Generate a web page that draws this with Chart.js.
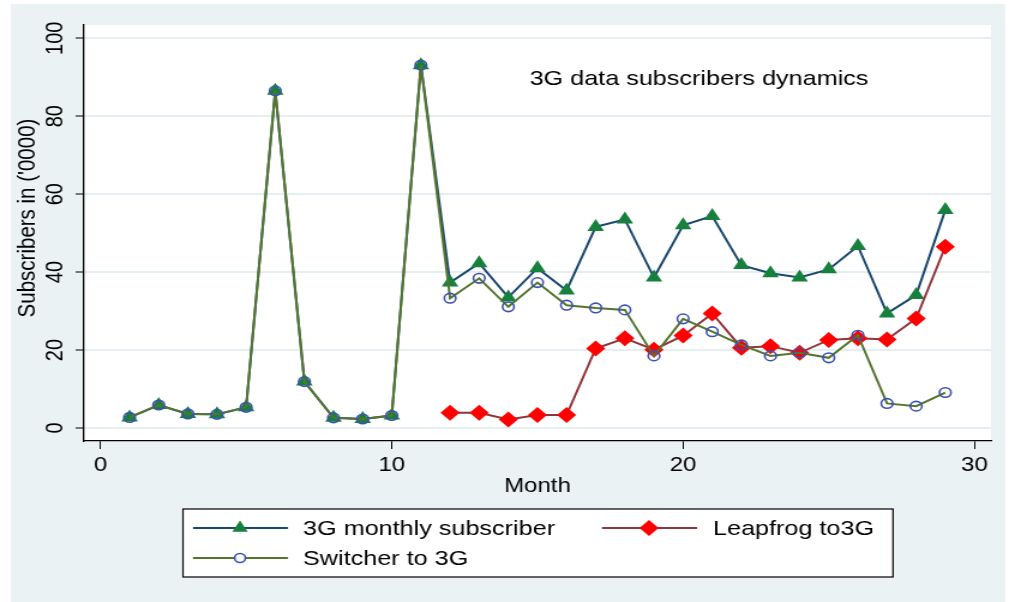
<!DOCTYPE html>
<html>
<head>
<meta charset="utf-8">
<script src="https://cdn.jsdelivr.net/npm/chart.js@4/dist/chart.umd.min.js"></script>
<style>
  body { margin: 0; background: #ffffff; }
</style>
</head>
<body>
<!-- the reference is stretched ~1.2x horizontally, so draw narrow and stretch with css -->
<canvas id="chart" width="846" height="602" style="display:block;width:1015px;height:602px"></canvas>
<script>
// Data
const months = [1, 2, 3, 4, 5, 6, 7, 8, 9, 10, 11, 12, 13, 14, 15, 16, 17, 18, 19, 20, 21, 22, 23, 24, 25, 26, 27, 28, 29];
const monthly3G = [2.7, 5.9, 3.6, 3.5, 5.3, 86.5, 11.9, 2.6, 2.3, 3.2, 93.1, 37.3, 42.3, 33.5, 41.0, 35.3, 51.6, 53.5, 38.6, 52.0, 54.4, 41.8, 39.7, 38.6, 40.7, 46.7, 29.4, 34.1, 55.9];
const leapfrog = [null, null, null, null, null, null, null, null, null, null, null, 3.9, 3.9, 2.2, 3.3, 3.3, 20.4, 23.0, 20.1, 23.7, 29.4, 20.6, 21.0, 19.3, 22.6, 23.0, 22.7, 28.1, 46.5];
const switcher = [2.7, 5.9, 3.6, 3.5, 5.3, 86.5, 11.9, 2.6, 2.3, 3.2, 93.1, 33.3, 38.4, 31.1, 37.3, 31.5, 30.8, 30.3, 18.5, 28.0, 24.7, 21.3, 18.5, 19.3, 18.0, 23.8, 6.3, 5.6, 9.1];

const xTicks = [0, 10, 20, 30];
const yTicks = [0, 20, 40, 60, 80, 100];

const seriesNames = ['3G monthly subscriber', 'Leapfrog to3G', 'Switcher to 3G'];
const chartTitle = '3G data subscribers dynamics';
const yTitle = "Subscribers in ('0000)";
const xTitle = 'Month';

// colours (Stata s2color look)
const navy = '#1a476f';
const maroon = '#90353b';
const olive = '#55752f';
const triGreen = '#16803c';
const diaRed = '#ff0000';
const ringBlue = '#3c50b4';
const bgBlue = '#eaf2f3';

const S = 1015 / 846; // css px per canvas px horizontally
const FONT = '"Liberation Sans", Arial, Helvetica, sans-serif';
Chart.defaults.font.family = FONT;
Chart.defaults.color = '#000';

function toPoints(values) {
    return months.map((m, i) => ({ x: m, y: values[i] }));
}

// small marker helper for the legend
function drawMarker(ctx, type, x, y) {
    ctx.save();
    if (type === 'triangle') {
        const r = 7.5;
        ctx.fillStyle = triGreen;
        ctx.beginPath();
        ctx.moveTo(x, y - r);
        ctx.lineTo(x + r * 0.866, y + r / 2);
        ctx.lineTo(x - r * 0.866, y + r / 2);
        ctx.closePath();
        ctx.fill();
    } else if (type === 'diamond') {
        const r = 8;
        ctx.fillStyle = diaRed;
        ctx.beginPath();
        ctx.moveTo(x - r, y);
        ctx.lineTo(x, y - r);
        ctx.lineTo(x + r, y);
        ctx.lineTo(x, y + r);
        ctx.closePath();
        ctx.fill();
    } else {
        ctx.strokeStyle = ringBlue;
        ctx.lineWidth = 1.6;
        ctx.fillStyle = '#fff';
        ctx.beginPath();
        ctx.arc(x, y, 4.5, 0, Math.PI * 2);
        ctx.fill();
        ctx.stroke();
    }
    ctx.restore();
}

const stataFrame = {
    id: 'stataFrame',
    beforeDraw(chart) {
        const ctx = chart.ctx;
        const a = chart.chartArea;
        ctx.save();
        ctx.fillStyle = '#fff';
        ctx.fillRect(0, 0, chart.width, chart.height);
        ctx.fillStyle = bgBlue;
        ctx.fillRect(11 / S, 4, (1005 - 11) / S, 598);
        ctx.fillStyle = '#fff';
        ctx.fillRect(a.left, a.top, a.right - a.left, a.bottom - a.top);
        ctx.restore();
    },
    afterDraw(chart) {
        const ctx = chart.ctx;
        ctx.save();
        ctx.fillStyle = '#000';

        // caption inside the plot region
        ctx.font = '21px ' + FONT;
        ctx.textAlign = 'center';
        ctx.textBaseline = 'alphabetic';
        ctx.fillText(chartTitle, 699 / S, 85);

        // y axis title
        ctx.save();
        ctx.translate(28 / S, 218);
        ctx.rotate(-Math.PI / 2);
        ctx.font = '20.5px ' + FONT;
        ctx.textAlign = 'center';
        ctx.textBaseline = 'middle';
        ctx.fillText(yTitle, 0, 0);
        ctx.restore();

        // legend box
        ctx.fillStyle = '#fff';
        ctx.fillRect(183 / S, 509, (893 - 183) / S, 68);
        ctx.strokeStyle = '#000';
        ctx.lineWidth = 1.2;
        ctx.strokeRect(183 / S, 509, (893 - 183) / S, 68);

        const items = [
            { name: seriesNames[0], color: navy, marker: 'triangle', x0: 193, x1: 288, mx: 240, tx: 303, y: 528 },
            { name: seriesNames[1], color: maroon, marker: 'diamond', x0: 602, x1: 697, mx: 649, tx: 713, y: 528 },
            { name: seriesNames[2], color: olive, marker: 'circle', x0: 193, x1: 288, mx: 240, tx: 303, y: 558 }
        ];
        items.forEach(it => {
            ctx.strokeStyle = it.color;
            ctx.lineWidth = 2;
            ctx.beginPath();
            ctx.moveTo(it.x0 / S, it.y);
            ctx.lineTo(it.x1 / S, it.y);
            ctx.stroke();
            drawMarker(ctx, it.marker, it.mx / S, it.y);
            ctx.fillStyle = '#000';
            ctx.font = '21px ' + FONT;
            ctx.textAlign = 'left';
            ctx.textBaseline = 'middle';
            ctx.fillText(it.name, it.tx / S, it.y + 1);
        });
        ctx.restore();
    }
};

const canvas = document.getElementById('chart');
const ctx = canvas.getContext('2d');
new Chart(ctx, {
    type: 'line',
    data: {
        // first dataset is drawn on top, as the switcher line is in the reference
        datasets: [
            {
                label: seriesNames[2],
                data: toPoints(switcher),
                borderColor: olive,
                borderWidth: 2,
                pointStyle: 'circle',
                pointRadius: 4.8,
                pointBackgroundColor: 'rgba(0,0,0,0)',
                pointBorderColor: ringBlue,
                pointBorderWidth: 1.6,
                tension: 0
            },
            {
                label: seriesNames[1],
                data: toPoints(leapfrog),
                borderColor: maroon,
                borderWidth: 2,
                pointStyle: 'rectRot',
                pointRadius: 8,
                pointBackgroundColor: diaRed,
                pointBorderColor: diaRed,
                pointBorderWidth: 0,
                tension: 0
            },
            {
                label: seriesNames[0],
                data: toPoints(monthly3G),
                borderColor: navy,
                borderWidth: 2,
                pointStyle: 'triangle',
                pointRadius: 8,
                pointBackgroundColor: triGreen,
                pointBorderColor: triGreen,
                pointBorderWidth: 0,
                tension: 0
            }
        ]
    },
    options: {
        responsive: false,
        animation: false,
        devicePixelRatio: 1,
        layout: {
            padding: { left: 0, right: 20, top: 25, bottom: 104 }
        },
        plugins: {
            legend: { display: false },
            tooltip: { enabled: false }
        },
        scales: {
            x: {
                type: 'linear',
                min: -0.566,
                max: 30.57,
                afterBuildTicks: s => { s.ticks = xTicks.map(v => ({ value: v })); },
                afterFit: s => { s.height = 57; },
                ticks: {
                    font: { size: 20 },
                    color: '#000',
                    padding: 4,
                    maxRotation: 0,
                    autoSkip: false
                },
                grid: {
                    drawOnChartArea: false,
                    drawTicks: true,
                    tickLength: 8,
                    tickColor: '#000',
                    tickWidth: 1
                },
                border: { color: '#000', width: 1.3 },
                title: {
                    display: true,
                    text: xTitle,
                    color: '#000',
                    font: { size: 20, lineHeight: 1.2 },
                    padding: 0
                }
            },
            y: {
                type: 'linear',
                min: -3.34,
                max: 103.4,
                afterBuildTicks: s => { s.ticks = yTicks.map(v => ({ value: v })); },
                afterFit: s => { s.width = 70; },
                ticks: {
                    font: { size: 20 },
                    color: '#000',
                    padding: 0,
                    minRotation: 90,
                    maxRotation: 90,
                    crossAlign: 'center',
                    autoSkip: false
                },
                grid: {
                    color: '#e5eef0',
                    lineWidth: 2,
                    drawTicks: true,
                    tickLength: 7,
                    tickColor: '#000',
                    tickWidth: 1
                },
                border: { color: '#000', width: 1.3 }
            }
        }
    },
    plugins: [stataFrame]
});
// keep the horizontal stretch even if Chart.js rewrote the inline size
canvas.style.width = '1015px';
canvas.style.height = '602px';
</script>
</body>
</html>
